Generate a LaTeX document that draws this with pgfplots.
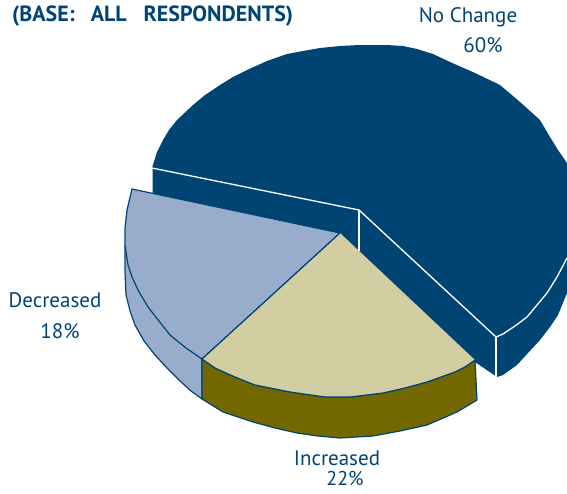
\documentclass[border=0pt]{standalone}
\usepackage{fontspec}
\setmainfont{PT Sans}
\usepackage{pgfplots}
\pgfplotsset{compat=1.18}
\definecolor{navy}{HTML}{004474}
\definecolor{slate}{HTML}{98ADCC}
\definecolor{sand}{HTML}{D2CEA2}
\definecolor{olive2}{HTML}{736800}

\begin{document}
\begin{tikzpicture}
\begin{axis}[
    scale only axis,
    width=567pt, height=493pt,
    xmin=0, xmax=567,
    ymin=0, ymax=493,
    y dir=reverse,
    ticks=none,
    axis line style={draw=none},
    no markers,
    clip=true,
]

% No Change, top and walls
\addplot[fill=navy, draw=none] coordinates {
    (152,168)(157,152)(163,140)(169,130)(177,120)(193,105)(205,95)(220,85)(233,77)(247,70)(267,61)(287,54)(303,51)(320,48)(340,46)(360,45)
    (387,45)(403,46)(417,49)(433,54)(450,62)(475,73)(500,85)(520,102)(540,120)(550,137)(558,150)(567,163)
    (567,293)(558,315)(550,327)(540,340)(528,353)(517,365)(503,375)(497,377)(475,362)(345,245)
    (152,196)
} -- cycle;

% white edges
\addplot[white, line width=1.3pt] coordinates {
    (152,193)(152,168)(359,210)(496,337)(503,334)(515,326)(527,317)(537,305)(547,293)(557,277)(567,258)
};
\addplot[white, line width=1.3pt] coordinates {(359,210)(359,251)};
\addplot[white, line width=1.3pt] coordinates {(496,337)(496,377)};

% Decreased, side then top
\addplot[fill=slate, draw=navy, line width=1.2pt] coordinates {
    (125,245)(125,272)(126,295)(130,311)(135,325)(144,341)(155,355)(167,368)(180,381)(191,391)(202,399)(202,359)(125,250)
} -- cycle;
\addplot[fill=slate, draw=navy, line width=1.2pt] coordinates {
    (132,189)(340,233)(202,359)(186,348)(170,335)(159,321)(148,307)(138,290)(132,277)(128,265)(125,245)(125,228)(127,210)
} -- cycle;

% Increased, side then top
\addplot[fill=olive2, draw=navy, line width=1.2pt] coordinates {
    (202,359)(215,368)(235,377)(255,385)(290,392)(325,397)(350,397)(383,393)(405,388)(427,382)(455,372)(465,367)(475,360)
    (477,400)(457,412)(427,425)(400,431)(373,436)(340,438)(318,436)(297,433)(275,428)(253,422)(223,412)(202,399)
} -- cycle;
\addplot[fill=sand, draw=none] coordinates {
    (340,233)(202,359)(215,368)(235,377)(255,385)(290,392)(325,397)(350,397)(383,393)(405,388)(427,382)(455,372)(465,367)(475,360)
} -- cycle;
\addplot[navy, line width=1.2pt] coordinates {
    (340,233)(202,359)(215,368)(235,377)(255,385)(290,392)(325,397)(350,397)(383,393)(405,388)(427,382)(455,372)(465,367)(475,360)
};

\node[anchor=west, inner sep=0pt, text=navy, font=\bfseries\fontsize{22}{26}\selectfont] at (axis cs:12,16)
    {(BASE:\hspace{16pt}ALL\hspace{17pt}RESPONDENTS)};
\node[inner sep=0pt, text=navy, font=\fontsize{21}{25}\selectfont] at (axis cs:468,17) {No Change};
\node[inner sep=0pt, text=navy, font=\fontsize{21}{25}\selectfont] at (axis cs:483,45) {60\%};
\node[inner sep=0pt, text=navy, font=\fontsize{21}{25}\selectfont] at (axis cs:55,300) {Decreased};
\node[inner sep=0pt, text=navy, font=\fontsize{21}{25}\selectfont] at (axis cs:60,331) {18\%};
\node[inner sep=0pt, text=navy, font=\fontsize{21}{25}\selectfont] at (axis cs:337,458) {Increased};
\node[inner sep=0pt, anchor=base, text=navy, font=\fontsize{20}{24}\selectfont] at (axis cs:345,485) {22\%};
\end{axis}
\end{tikzpicture}
\end{document}
